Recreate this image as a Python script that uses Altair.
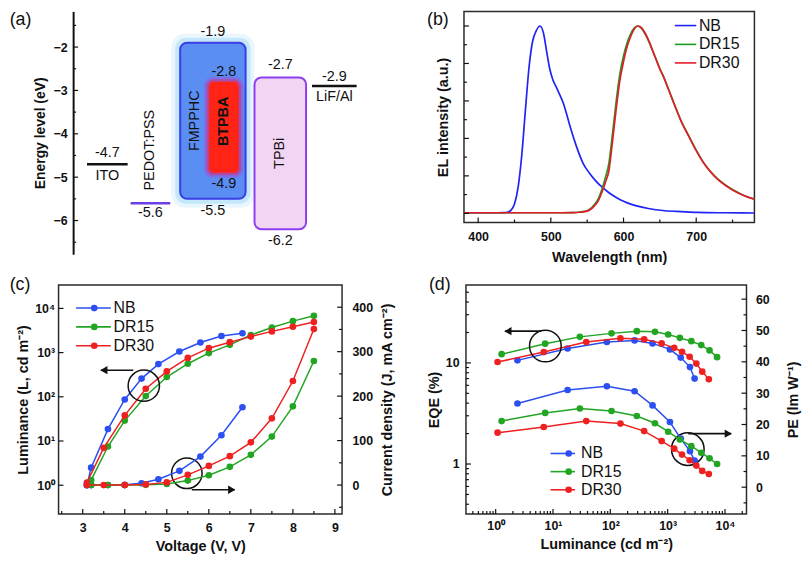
import altair as alt
import pandas as pd

FONT = "Liberation Sans"
INK = "#111111"

SERIES = ["NB", "DR15", "DR30"]
SPEC_COLORS = ["#1f23f4", "#1d9a1d", "#e21c2a"]
DOT_COLORS = ["#2b4ff0", "#22a522", "#ee2020"]

# ---------------------------------------------------------------- (a) data
ELECTRODES = ["ITO", "PEDOT:PSS", "LiF/Al"]
ELECTRODE_LEVEL = [-4.7, -5.6, -2.9]
ELECTRODE_COLOR = ["#111111", "#6b3fe6", "#111111"]
LAYERS = ["FMPPHC", "BTPBA", "TPBi"]
LAYER_LUMO = [-1.9, -2.8, -2.7]
LAYER_HOMO = [-5.5, -4.9, -6.2]
A_TICKS = [-2, -3, -4, -5, -6]
A_MINOR = [-1.5, -2.5, -3.5, -4.5, -5.5, -6.5]

# ---------------------------------------------------------------- (b) data
WL_NB = [380, 420, 435, 440, 445, 450, 455, 460, 465, 470, 475, 480, 485, 490, 494, 498, 503, 508,
         512, 517, 521, 526, 535, 544, 553, 562, 571, 580, 590, 600, 611, 634, 657, 680, 702, 740, 780]
EL_NB = [0.003, 0.003, 0.004, 0.006, 0.016, 0.05, 0.14, 0.31, 0.55, 0.78, 0.92, 0.975, 1.0, 0.96,
         0.87, 0.78, 0.71, 0.67, 0.635, 0.59, 0.54, 0.47, 0.36, 0.27, 0.215, 0.172, 0.138, 0.11,
         0.085, 0.065, 0.048, 0.026, 0.014, 0.009, 0.005, 0.003, 0.002]
WL_DR = [380, 450, 500, 530, 540, 550, 555, 560, 565, 570, 575, 580, 585, 590, 595, 600, 605, 610,
         615, 620, 625, 630, 635, 640, 645, 650, 655, 660, 665, 670, 680, 690, 700, 710, 720, 730,
         740, 750, 760, 770, 780]
EL_DR15 = [0.003, 0.003, 0.003, 0.004, 0.007, 0.014, 0.026, 0.047, 0.076, 0.125, 0.19, 0.27, 0.43,
           0.6, 0.745, 0.84, 0.91, 0.96, 0.99, 1.0, 0.985, 0.955, 0.915, 0.868, 0.82, 0.772, 0.73,
           0.682, 0.632, 0.582, 0.487, 0.412, 0.337, 0.272, 0.222, 0.182, 0.152, 0.127, 0.106,
           0.089, 0.076]
EL_DR30 = [0.003, 0.003, 0.003, 0.004, 0.006, 0.012, 0.022, 0.04, 0.065, 0.11, 0.165, 0.23, 0.39,
           0.56, 0.71, 0.81, 0.89, 0.945, 0.985, 1.0, 0.99, 0.96, 0.92, 0.87, 0.82, 0.77, 0.73,
           0.68, 0.63, 0.58, 0.485, 0.41, 0.335, 0.27, 0.22, 0.18, 0.15, 0.125, 0.105, 0.088, 0.075]
B_XTICKS = [400, 500, 600, 700]
B_XMINOR = [450, 550, 650, 750]
B_YTICKS = [0, 0.2, 0.4, 0.6, 0.8, 1.0]
B_YMINOR = [0.1, 0.3, 0.5, 0.7, 0.9]

# ---------------------------------------------------------------- (c) data
V_NB = [3.1, 3.2, 3.6, 4.0, 4.4, 4.8, 5.3, 5.8, 6.3, 6.8]
L_NB = [1.0, 2.5, 18.6, 87, 258, 550, 1060, 1690, 2380, 2740]
J_NB = [0, 0, 0.2, 0.5, 4, 13, 32, 64, 112, 175]
V_DR15 = [3.2, 3.6, 4.0, 4.5, 5.0, 5.5, 6.0, 6.5, 7.0, 7.5, 8.0, 8.5]
L_DR15 = [1.3, 7.5, 29, 104, 280, 560, 975, 1500, 2500, 3700, 5150, 6800]
J_DR15 = [0, 0, 0, 0.5, 2.5, 10, 22, 41, 68, 109, 177, 279]
V_DR30 = [3.1, 3.5, 4.0, 4.5, 5.0, 5.5, 6.0, 6.5, 7.0, 7.5, 8.0, 8.5]
L_DR30 = [1.15, 7.0, 38, 152, 375, 760, 1260, 1720, 2300, 3020, 3850, 4900]
J_DR30 = [0, 0, 0, 1.5, 6, 23, 43, 65, 96, 150, 234, 351]
C_XTICKS = [3, 4, 5, 6, 7, 8, 9]
C_XMINOR = [2.5, 3.5, 4.5, 5.5, 6.5, 7.5, 8.5]
C_LTICKS = [1, 10, 100, 1000, 10000]
C_JTICKS = [0, 100, 200, 300, 400]
C_JMINOR = [-50, 50, 150, 250, 350]

# ---------------------------------------------------------------- (d) data
D_LUM_NB = [2.4, 18, 87, 265, 545, 1095, 1690, 2450, 2950]
EQE_NB = [10.6, 13.9, 16.1, 16.7, 15.6, 13.6, 11.3, 9.1, 7.0]
PE_NB = [26.7, 31.0, 32.2, 30.6, 26.1, 20.8, 15.5, 11.5, 8.5]
D_LUM_DR15 = [1.27, 7.3, 29.4, 105, 290, 600, 1020, 1630, 2590, 3850, 5370, 7280]
EQE_DR15 = [12.2, 15.5, 18.1, 19.6, 20.6, 20.3, 19.1, 17.7, 16.4, 15.0, 13.3, 11.4]
PE_DR15 = [21.1, 23.7, 25.1, 24.3, 22.7, 20.4, 17.7, 15.2, 13.1, 11.0, 9.2, 7.4]
D_LUM_DR30 = [1.08, 6.9, 38, 150, 389, 785, 1300, 1780, 2420, 3160, 4010, 5230]
EQE_DR30 = [10.2, 12.8, 16.1, 17.5, 17.1, 15.6, 14.1, 12.9, 11.5, 9.85, 8.2, 6.9]
PE_DR30 = [17.4, 19.2, 21.1, 20.3, 17.9, 14.7, 12.3, 10.4, 8.6, 6.9, 5.2, 4.2]
D_XTICKS = [1, 10, 100, 1000, 10000]
D_XMINOR = [0.4, 0.5, 0.6, 0.7, 0.8, 0.9, 2, 3, 4, 5, 6, 7, 8, 9, 20, 30, 40, 50, 60, 70, 80, 90,
            200, 300, 400, 500, 600, 700, 800, 900, 2000, 3000, 4000, 5000, 6000, 7000, 8000, 9000,
            20000]
D_ETICKS = [1, 10]
D_EMINOR = [0.4, 0.5, 0.6, 0.7, 0.8, 0.9, 2, 3, 4, 5, 6, 7, 8, 9, 20, 30, 40, 50]
D_PTICKS = [0, 10, 20, 30, 40, 50, 60]
D_PMINOR = [-5, 5, 15, 25, 35, 45, 55]

# ---------------------------------------------------------------- layout (pixels)
A_SHIFT = 14.7             # panel (a) axis sits this far right of the column origin
A_W, A_H = 345, 245
B_W, B_H = 293, 213
C_W, C_H = 286, 231
D_W, D_H = 283, 231

ONE = pd.DataFrame({"k": [0]})
SUP = ("datum.value >= 9999 ? '10\u2074' : datum.value >= 999 ? '10\u00b3' : "
       "datum.value >= 99 ? '10\u00b2' : datum.value >= 9 ? '10\u00b9' : '10\u2070'")


def rule_ticks(values, scale, axis, side, length, w, h, x_off=0):
    df = pd.DataFrame({"t": values})
    m = alt.Chart(df).mark_rule(color=INK, strokeWidth=1.2)
    if side in ("left", "right"):
        x0, x1 = (x_off, x_off + length) if side == "left" else (w - length, w)
        return m.encode(y=alt.Y("t:Q", scale=scale, axis=axis), x=alt.value(x0), x2=alt.value(x1))
    return m.encode(x=alt.X("t:Q", scale=scale, axis=axis), y=alt.value(h - length), y2=alt.value(h))


def anchor(x0, x1, y0, y1):
    """invisible marks that fix the bounding box of a panel"""
    return [alt.Chart(ONE).mark_rule(opacity=0, strokeWidth=0.5).encode(
                x=alt.value(x0), x2=alt.value(x1), y=alt.value(y0)),
            alt.Chart(ONE).mark_rule(opacity=0, strokeWidth=0.5).encode(
                x=alt.value(x0), y=alt.value(y0), y2=alt.value(y1))]


def txt(text, x, y, size=16, align="left", baseline="middle", weight="normal"):
    return alt.Chart(ONE).mark_text(text=text, fontSize=size, align=align, baseline=baseline,
                                    fontWeight=weight, color=INK, font=FONT).encode(
        x=alt.value(x), y=alt.value(y))


def circle(x, y, size):
    return alt.Chart(ONE).mark_point(shape="circle", size=size, filled=False, color=INK,
                                     strokeWidth=1.5, opacity=1).encode(x=alt.value(x), y=alt.value(y))


def arrow(x0, x1, y, direction):
    line = alt.Chart(ONE).mark_rule(color=INK, strokeWidth=1.6).encode(
        x=alt.value(x0), x2=alt.value(x1), y=alt.value(y))
    if direction == "left":
        head = alt.Chart(ONE).mark_point(shape="triangle-left", filled=True, size=70, color=INK,
                                         opacity=1).encode(x=alt.value(x0 + 3), y=alt.value(y))
    else:
        head = alt.Chart(ONE).mark_point(shape="triangle-right", filled=True, size=70, color=INK,
                                         opacity=1).encode(x=alt.value(x1 - 3), y=alt.value(y))
    return [line, head]


def legend(ys, line_x, point_x, text_x, colors, with_points=True):
    out = []
    for name, y, col in zip(SERIES, ys, colors):
        out.append(alt.Chart(ONE).mark_rule(color=col, strokeWidth=1.6).encode(
            x=alt.value(line_x[0]), x2=alt.value(line_x[1]), y=alt.value(y)))
        if with_points:
            out.append(alt.Chart(ONE).mark_point(filled=True, size=45, color=col, opacity=1).encode(
                x=alt.value(point_x), y=alt.value(y)))
        out.append(txt(name, text_x, y, size=16))
    return out


def series_layers(xs, ys, xfield, yfield, xscale, yscale, xaxis, yaxis):
    out = []
    for name, xv, yv, col in zip(SERIES, xs, ys, DOT_COLORS):
        df = pd.DataFrame({xfield: xv, yfield: yv})
        enc = dict(x=alt.X(f"{xfield}:Q", scale=xscale, axis=xaxis),
                   y=alt.Y(f"{yfield}:Q", scale=yscale, axis=yaxis))
        out.append(alt.Chart(df).mark_line(color=col, strokeWidth=1.5).encode(**enc))
        out.append(alt.Chart(df).mark_point(color=col, filled=True, size=45, opacity=1).encode(**enc))
    return out


# ================================================================ panel (a)
A_DOM = [-6.777, -1.177]
PX_EV = A_H / (A_DOM[1] - A_DOM[0])
ELECTRODE_X = [(14, 55), (58, 98), (241, 286)]
LAYER_X = [(108, 174), (137, 167), (183, 235)]
xa = alt.Scale(domain=[-A_SHIFT, A_W - A_SHIFT], nice=False, zero=False)
ya = alt.Scale(domain=A_DOM, nice=False, zero=False)
ax_a_x = alt.Axis(labels=False, title=None, domain=False)
ax_a_y = alt.Axis(values=A_TICKS, format="d", title="Energy level (eV)", domain=True, domainColor=INK,
                  domainWidth=2, labelPadding=6, titlePadding=6, titleFontSize=14, offset=-A_SHIFT)

lay = pd.DataFrame({"name": LAYERS, "lumo": LAYER_LUMO, "homo": LAYER_HOMO,
                    "x0": [p[0] for p in LAYER_X], "x1": [p[1] for p in LAYER_X]})


def box(name, pad, **mk):
    d = lay[lay["name"] == name].copy()
    d["x0"] = d["x0"] - pad
    d["x1"] = d["x1"] + pad
    d["lumo"] = d["lumo"] + pad / PX_EV
    d["homo"] = d["homo"] - pad / PX_EV
    return alt.Chart(d).mark_rect(**mk).encode(
        x=alt.X("x0:Q", scale=xa, axis=ax_a_x), x2="x1:Q",
        y=alt.Y("lumo:Q", scale=ya, axis=ax_a_y), y2="homo:Q")


def ly(level, dy_px):
    return level - dy_px / PX_EV


elec_rules = []
for name, lv, (x0, x1), col in zip(ELECTRODES, ELECTRODE_LEVEL, ELECTRODE_X, ELECTRODE_COLOR):
    d = pd.DataFrame({"level": [lv], "x0": [x0], "x1": [x1]})
    elec_rules.append(alt.Chart(d).mark_rule(strokeWidth=2.5, color=col).encode(
        x=alt.X("x0:Q", scale=xa, axis=ax_a_x), x2="x1:Q",
        y=alt.Y("level:Q", scale=ya, axis=ax_a_y)))

flat_rows = []
for name, lv, (x0, x1), vdy, ndy in zip(ELECTRODES, ELECTRODE_LEVEL, ELECTRODE_X,
                                        [-11, 10, -9], [12, None, 11]):
    cx = (x0 + x1) / 2
    flat_rows.append({"t": f"{lv:.1f}", "x": cx, "y": ly(lv, vdy)})
    if ndy is not None:
        flat_rows.append({"t": name, "x": cx, "y": ly(lv, ndy)})
for name, lu, ho, (x0, x1), tdy, bdy in zip(LAYERS, LAYER_LUMO, LAYER_HOMO, LAYER_X,
                                            [-10.5, -10, -13], [12, 11, 11.5]):
    cx = (x0 + x1) / 2
    flat_rows.append({"t": f"{lu:.1f}", "x": cx, "y": ly(lu, tdy)})
    flat_rows.append({"t": f"{ho:.1f}", "x": cx, "y": ly(ho, bdy)})
flat_df = pd.DataFrame(flat_rows)

mid = [(a + b) / 2 for a, b in zip(LAYER_LUMO, LAYER_HOMO)]
rot_df = pd.DataFrame({
    "t": ["PEDOT:PSS", "FMPPHC", "TPBi"],
    "x": [sum(ELECTRODE_X[1]) / 2, (LAYER_X[0][0] + LAYER_X[1][0]) / 2, sum(LAYER_X[2]) / 2],
    "y": [ly(ELECTRODE_LEVEL[1], -53.5), mid[0], mid[2]],
})
bold_df = pd.DataFrame({"t": ["BTPBA"], "x": [sum(LAYER_X[1]) / 2], "y": [ly(mid[1], -6)]})


def label_layer(df, **mk):
    return alt.Chart(df).mark_text(font=FONT, color=INK, align="center", baseline="middle", **mk).encode(
        x=alt.X("x:Q", scale=xa, axis=ax_a_x), y=alt.Y("y:Q", scale=ya, axis=ax_a_y), text="t:N")


panel_a = alt.layer(
    box("FMPPHC", 9, color="#bfe6fb", opacity=0.35, cornerRadius=14),
    box("FMPPHC", 5, color="#a6dcf8", opacity=0.55, cornerRadius=11),
    box("FMPPHC", 0, color="#5b8ef2", stroke="#3b3de8", strokeWidth=2, cornerRadius=7),
    box("BTPBA", 5, color="#a24bd6", opacity=0.45, cornerRadius=9),
    box("BTPBA", 2.5, color="#d0307a", opacity=0.6, cornerRadius=7),
    box("BTPBA", 0, color="#ff2416", cornerRadius=5),
    box("TPBi", 0, color="#f2d5f2", stroke="#8d3ff0", strokeWidth=2, cornerRadius=7),
    *elec_rules,
    label_layer(flat_df, fontSize=14.5),
    label_layer(rot_df, fontSize=14.5, angle=270),
    label_layer(bold_df, fontSize=14.5, angle=270, fontWeight="bold"),
    rule_ticks(A_TICKS, ya, ax_a_y, "left", 5, A_W, A_H, x_off=A_SHIFT),
    rule_ticks(A_MINOR, ya, ax_a_y, "left", 3, A_W, A_H, x_off=A_SHIFT),
    txt("(a)", -49.3, 0, size=18, baseline="top"),
    *anchor(-49.3, A_W, 0, A_H),
).properties(width=A_W, height=A_H, view=alt.ViewBackground(stroke="transparent"))

# ================================================================ panel (b)
xb = alt.Scale(domain=[380.5, 780.1], nice=False, zero=False)
yb = alt.Scale(domain=[-0.049, 1.078], nice=False, zero=False)
ax_b_x = alt.Axis(values=B_XTICKS, format="d", title="Wavelength (nm)", labelPadding=8, titlePadding=8)
ax_b_y = alt.Axis(labels=False, title="EL intensity (a.u.)", titlePadding=14)
spec_sets = [(WL_NB, EL_NB, SPEC_COLORS[0]), (WL_DR, EL_DR15, SPEC_COLORS[1]),
             (WL_DR, EL_DR30, SPEC_COLORS[2])]
b_lines = []
for wl, el, col in spec_sets:
    df = pd.DataFrame({"wl": wl, "I": el})
    b_lines.append(alt.Chart(df).mark_line(color=col, strokeWidth=1.7, interpolate="monotone").encode(
        x=alt.X("wl:Q", scale=xb, axis=ax_b_x), y=alt.Y("I:Q", scale=yb, axis=ax_b_y)))

panel_b = alt.layer(
    *b_lines,
    rule_ticks(B_XTICKS, xb, ax_b_x, "bottom", 5, B_W, B_H),
    rule_ticks(B_XMINOR, xb, ax_b_x, "bottom", 3, B_W, B_H),
    rule_ticks(B_YTICKS, yb, ax_b_y, "left", 5, B_W, B_H),
    rule_ticks(B_YMINOR, yb, ax_b_y, "left", 3, B_W, B_H),
    *legend([14.3, 33.3, 52], (212.7, 234.3), None, 237, SPEC_COLORS, with_points=False),
    txt("(b)", -37.3, 0, size=18, baseline="top"),
    *anchor(-61.7, B_W, 0, 263.7),
).properties(width=B_W, height=B_H)

# ================================================================ panel (c)
xc = alt.Scale(domain=[2.425, 9.17], nice=False, zero=False)
ycl = alt.Scale(type="log", domain=[10 ** -0.65, 10 ** 4.53], nice=False)
ycr = alt.Scale(domain=[-65, 450], nice=False, zero=False)
ax_c_x = alt.Axis(values=C_XTICKS, format="d", title="Voltage (V, V)", labelPadding=8, titlePadding=5)
ax_c_l = alt.Axis(values=C_LTICKS, labelExpr=SUP, title="Luminance (L, cd m\u207b\u00b2)",
                  labelPadding=4, titlePadding=4)
ax_c_r = alt.Axis(orient="right", values=C_JTICKS, format="d",
                  title="Current density (J, mA cm\u207b\u00b2)", labelPadding=10, titlePadding=8,
                  titleAngle=270, titleBaseline="top")

c_left = alt.layer(
    rule_ticks(C_XTICKS, xc, ax_c_x, "bottom", 5, C_W, C_H),
    rule_ticks(C_XMINOR, xc, ax_c_x, "bottom", 3, C_W, C_H),
    rule_ticks(C_LTICKS, ycl, ax_c_l, "left", 5, C_W, C_H),
    *series_layers([V_NB, V_DR15, V_DR30], [L_NB, L_DR15, L_DR30], "V", "L", xc, ycl, ax_c_x, ax_c_l),
    *legend([23.3, 42.3, 61.3], (17.7, 52.7), 36, 55.4, DOT_COLORS),
    circle(86, 101.6, 1000), *arrow(42.7, 75.4, 86, "left"),
    circle(129.4, 190, 950), *arrow(134.4, 177.7, 206.6, "right"),
    txt("(c)", -49.3, -9, size=18, baseline="top"),
    *anchor(-49.3, 350, -10, 0),
)
c_right = alt.layer(
    rule_ticks(C_JTICKS, ycr, ax_c_r, "right", 5, C_W, C_H),
    rule_ticks(C_JMINOR, ycr, ax_c_r, "right", 3, C_W, C_H),
    *series_layers([V_NB, V_DR15, V_DR30], [J_NB, J_DR15, J_DR30], "V", "J", xc, ycr, ax_c_x, ax_c_r),
)
panel_c = alt.layer(c_left, c_right).resolve_scale(y="independent").properties(width=C_W, height=C_H)

# ================================================================ panel (d)
xd = alt.Scale(type="log", domain=[10 ** -0.518, 10 ** 4.375], nice=False)
ydl = alt.Scale(type="log", domain=[10 ** -0.494, 10 ** 1.771], nice=False)
ydr = alt.Scale(domain=[-8.54, 64.52], nice=False, zero=False)
ax_d_x = alt.Axis(values=D_XTICKS, labelExpr=SUP, title="Luminance (cd m\u207b\u00b2)",
                  labelPadding=6, titlePadding=5)
ax_d_l = alt.Axis(values=D_ETICKS, format="d", title="EQE (%)", labelPadding=7, titlePadding=4)
ax_d_r = alt.Axis(orient="right", values=D_PTICKS, format="d", title="PE (lm W\u207b\u00b9)",
                  labelPadding=9, titlePadding=18, titleAngle=270, titleBaseline="top")

LUMS = [D_LUM_NB, D_LUM_DR15, D_LUM_DR30]
d_left = alt.layer(
    rule_ticks(D_XTICKS, xd, ax_d_x, "bottom", 5, D_W, D_H),
    rule_ticks(D_XMINOR, xd, ax_d_x, "bottom", 3, D_W, D_H),
    rule_ticks(D_ETICKS, ydl, ax_d_l, "left", 5, D_W, D_H),
    rule_ticks(D_EMINOR, ydl, ax_d_l, "left", 3, D_W, D_H),
    *series_layers(LUMS, [EQE_NB, EQE_DR15, EQE_DR30], "lum", "eqe", xd, ydl, ax_d_x, ax_d_l),
    *legend([170, 188.3, 206.6], (85.3, 110), 103.6, 116, DOT_COLORS),
    circle(80.1, 61.6, 1020), *arrow(39.3, 76, 46.6, "left"),
    circle(223.8, 165.6, 1080), *arrow(224.3, 267.6, 150, "right"),
    txt("(d)", -37.4, -9, size=18, baseline="top"),
    *anchor(-58.4, 0, -10, 0),
)
d_right = alt.layer(
    rule_ticks(D_PTICKS, ydr, ax_d_r, "right", 5, D_W, D_H),
    rule_ticks(D_PMINOR, ydr, ax_d_r, "right", 3, D_W, D_H),
    *series_layers(LUMS, [PE_NB, PE_DR15, PE_DR30], "lum", "pe", xd, ydr, ax_d_x, ax_d_r),
)
panel_d = alt.layer(d_left, d_right).resolve_scale(y="independent").properties(width=D_W, height=D_H)

# ================================================================ assemble
row1 = alt.hconcat(panel_a, panel_b, spacing=0)
row2 = alt.hconcat(panel_c, panel_d, spacing=0)
chart = alt.vconcat(row1, row2, spacing=0, padding=0).configure_view(
    stroke="#2a2a2a", strokeWidth=1.5
).configure_axis(
    labelFont=FONT, titleFont=FONT, labelFontWeight="bold", titleFontWeight="bold",
    labelFontSize=12.5, titleFontSize=14.5, labelColor=INK, titleColor=INK,
    ticks=False, domain=False, grid=False
)

chart.save("out.html", embed_options={"renderer": "svg", "actions": False})
